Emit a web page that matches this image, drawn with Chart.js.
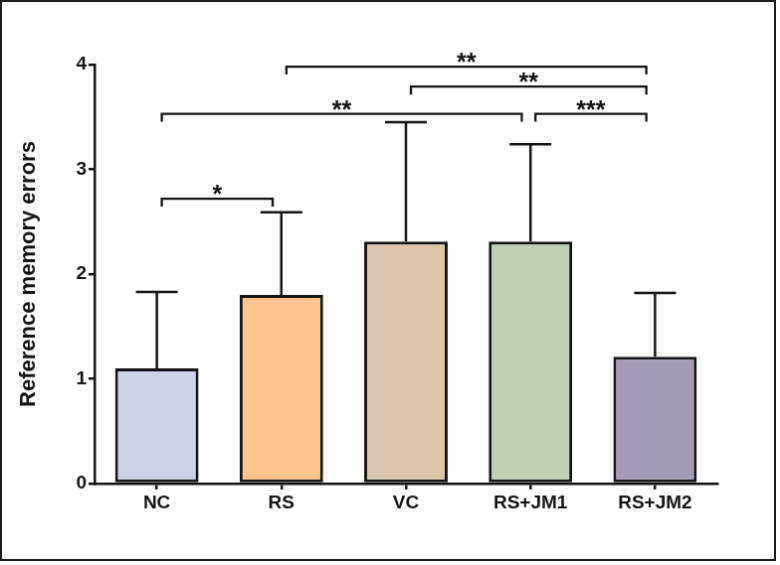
<!DOCTYPE html>
<html>
<head>
<meta charset="utf-8">
<script src="https://cdn.jsdelivr.net/npm/chart.js@4/dist/chart.umd.min.js"></script>
<style>
  body { margin: 0; background: #fff; }
  #memChart { display: block; border: 2px solid #1c1c1c; }
</style>
</head>
<body>
<canvas id="memChart" width="776" height="561"></canvas>
<script>
const groups = ['NC', 'RS', 'VC', 'RS+JM1', 'RS+JM2'];
const meanErrors = [1.1, 1.8, 2.31, 2.31, 1.21];
const sdErrors = [0.73, 0.79, 1.14, 0.93, 0.61];
const barColors = ['#ccd3e8', '#fcc48a', '#dbc5ab', '#bcd1b6', '#a39bb5'];
const yTicks = [0, 1, 2, 3, 4];

// significance brackets: from group, to group, height, stars
const bracketFrom = [0, 0, 3, 2, 1];
const bracketTo = [1, 3, 4, 4, 4];
const bracketY = [2.72, 3.53, 3.53, 3.79, 3.98];
const bracketLabel = ['*', '**', '***', '**', '**'];

const ink = '#141414';
const fontFam = '"Liberation Sans", Arial, sans-serif';

const extrasPlugin = {
  id: 'extras',
  afterDatasetsDraw(chart) {
    const ctx = chart.ctx;
    const x = chart.scales.x;
    const y = chart.scales.y;
    ctx.save();
    ctx.strokeStyle = ink;
    ctx.lineWidth = 2.5;
    // error bars (upper only)
    meanErrors.forEach(function (m, i) {
      const cx = x.getPixelForValue(i);
      const top = y.getPixelForValue(m + sdErrors[i]);
      ctx.beginPath();
      ctx.moveTo(cx, y.getPixelForValue(m));
      ctx.lineTo(cx, top);
      ctx.moveTo(cx - 21, top);
      ctx.lineTo(cx + 21, top);
      ctx.stroke();
    });
    // brackets
    ctx.lineWidth = 2.3;
    ctx.fillStyle = ink;
    ctx.font = 'bold 25px ' + fontFam;
    ctx.textAlign = 'center';
    ctx.textBaseline = 'alphabetic';
    bracketY.forEach(function (v, i) {
      const x1 = x.getPixelForValue(bracketFrom[i] + 0.04);
      const x2 = x.getPixelForValue(bracketTo[i] - 0.07);
      const py = y.getPixelForValue(v);
      ctx.beginPath();
      ctx.moveTo(x1, py + 8);
      ctx.lineTo(x1, py);
      ctx.lineTo(x2, py);
      ctx.lineTo(x2, py + 8);
      ctx.stroke();
      ctx.fillText(bracketLabel[i], (x1 + x2) / 2, py + 4);
    });
    ctx.restore();
  }
};

const ctx = document.getElementById('memChart').getContext('2d');

const chart = new Chart(ctx, {
  type: 'bar',
  data: {
    labels: groups,
    datasets: [
      {
        data: meanErrors,
        backgroundColor: barColors,
        borderColor: ink,
        borderWidth: 3,
        borderSkipped: false,
        barPercentage: 0.67,
        categoryPercentage: 1,
      },
    ],
  },
  options: {
    responsive: false,
    animation: false,
    layout: { padding: { top: 63, right: 57, bottom: 0, left: 0 } },
    plugins: {
      legend: { display: false },
      tooltip: { enabled: false },
    },
    scales: {
      x: {
        offset: true,
        border: { color: ink, width: 2.5 },
        grid: {
          offset: false,
          drawOnChartArea: false,
          drawTicks: true,
          tickLength: 6,
          color: ink,
          lineWidth: 2.5,
        },
        ticks: {
          color: ink,
          padding: 2,
          font: { family: fontFam, size: 19, weight: 'bold' },
        },
        afterFit(scale) {
          scale.height = 76;
        },
      },
      y: {
        min: 0,
        max: 4,
        afterBuildTicks(scale) {
          scale.ticks = yTicks.map(function (v) { return { value: v }; });
        },
        border: { color: ink, width: 2.5 },
        grid: {
          drawOnChartArea: false,
          drawTicks: true,
          tickLength: 6,
          color: ink,
          lineWidth: 2.5,
        },
        ticks: {
          color: ink,
          padding: 2,
          font: { family: fontFam, size: 19, weight: 'bold' },
        },
        title: {
          display: true,
          text: 'Reference memory errors',
          color: ink,
          padding: { top: 14, bottom: 0 },
          font: { family: fontFam, size: 22, weight: 'bold' },
        },
        afterFit(scale) {
          scale.width = 93;
        },
      },
    },
  },
  plugins: [extrasPlugin],
});
</script>
</body>
</html>
